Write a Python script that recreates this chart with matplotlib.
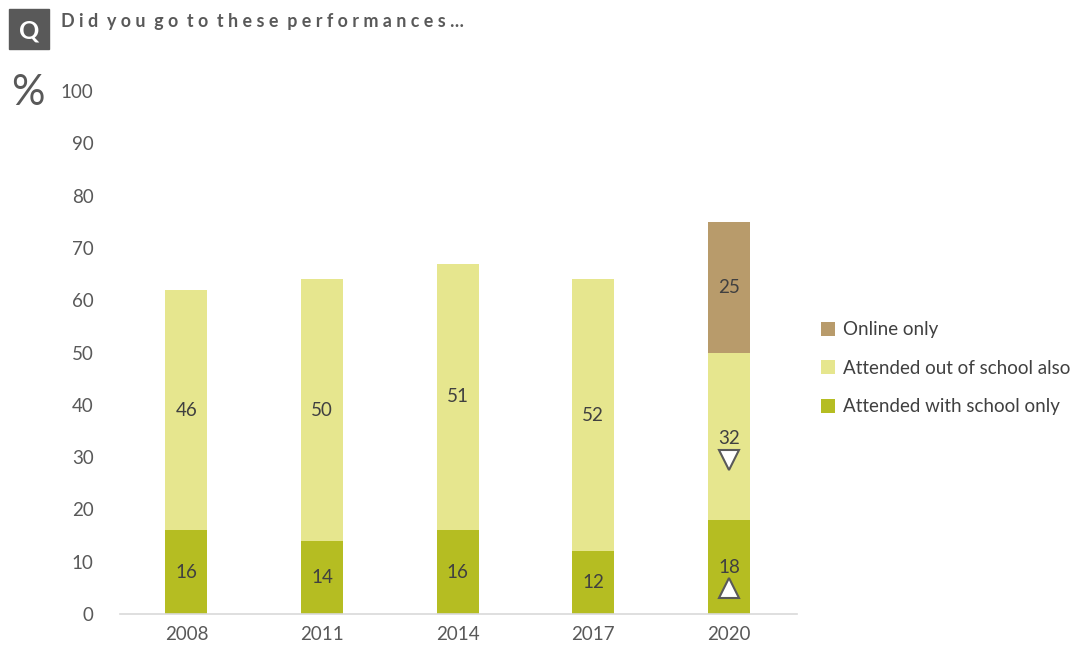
import matplotlib.pyplot as plt
from matplotlib.patches import Rectangle
import numpy as np

plt.rcParams['font.family'] = ['Lato', 'DejaVu Sans']

years = ['2008', '2011', '2014', '2017', '2020']
school_only = [16, 14, 16, 12, 18]
out_of_school = [46, 50, 51, 52, 32]
online_only = [0, 0, 0, 0, 25]

c_school = '#B5BD22'
c_out = '#E6E68E'
c_online = '#B89B6B'
txt = '#404040'
grey = '#595959'

fig = plt.figure(figsize=(10.81, 6.52), dpi=100)
ax = fig.add_axes([0.111, 0.0583, 0.626, 0.802])

x = np.arange(len(years))
w = 0.31
bottom2 = np.array(school_only)
bottom3 = bottom2 + np.array(out_of_school)
ax.bar(x, school_only, w, color=c_school, label='Attended with school only')
ax.bar(x, out_of_school, w, bottom=bottom2, color=c_out, label='Attended out of school also')
ax.bar(x, online_only, w, bottom=bottom3, color=c_online, label='Online only')

# value labels (2020 shifted up to make room for significance arrows)
for i in range(len(years)):
    y1 = school_only[i] / 2
    y2 = school_only[i] + out_of_school[i] / 2
    if i == 4:
        y1 = 8.8
        y2 = 33.5
    ax.text(x[i], y1, str(school_only[i]), ha='center', va='center', fontsize=13.5, color=txt)
    ax.text(x[i], y2, str(out_of_school[i]), ha='center', va='center', fontsize=13.5, color=txt)
    if online_only[i]:
        ax.text(x[i], bottom3[i] + online_only[i] / 2, str(online_only[i]),
                ha='center', va='center', fontsize=13.5, color=txt)

# significance markers
ax.plot(x[4], 29.5, marker='v', markersize=15, markerfacecolor='white',
        markeredgecolor=grey, markeredgewidth=1.5)
ax.plot(x[4], 5.0, marker='^', markersize=15, markerfacecolor='white',
        markeredgecolor=grey, markeredgewidth=1.5)

ax.set_xlim(-0.49, 4.5)
ax.set_ylim(0, 100)
ax.set_yticks(range(0, 101, 10))
ax.set_xticks(x)
ax.set_xticklabels(years)
ax.tick_params(axis='both', length=0, labelsize=13.5, labelcolor=grey)
ax.tick_params(axis='y', pad=19)
ax.tick_params(axis='x', pad=9)
for s in ['top', 'right', 'left']:
    ax.spines[s].set_visible(False)
ax.spines['bottom'].set_color('#D9D9D9')
ax.spines['bottom'].set_linewidth(1.2)

h, l = ax.get_legend_handles_labels()
fig.legend(h[::-1], l[::-1], loc='center left', bbox_to_anchor=(0.744, 0.435),
           frameon=False, fontsize=13.5, handlelength=0.75, handleheight=0.75,
           handletextpad=0.4, labelspacing=1.15, labelcolor=txt)

# header
fig.patches.append(Rectangle((9 / 1081, 1 - 49 / 652), 40 / 1081, 40 / 652,
                             transform=fig.transFigure, color='#595959'))
fig.text(29 / 1081, 1 - 31 / 652, 'Q', ha='center', va='center', color='white',
         fontsize=18, fontweight='bold')
title = 'Did you go to these performances…'
spaced = '  '.join(' '.join(word) for word in title.split(' '))
fig.text(61 / 1081, 1 - 21 / 652, spaced, ha='left', va='center',
         color=grey, fontsize=12.9, fontweight='bold')
fig.text(28 / 1081, 1 - 93 / 652, '%', ha='center', va='center', color=grey,
         fontsize=30)

fig.savefig('out.png', dpi=100)
